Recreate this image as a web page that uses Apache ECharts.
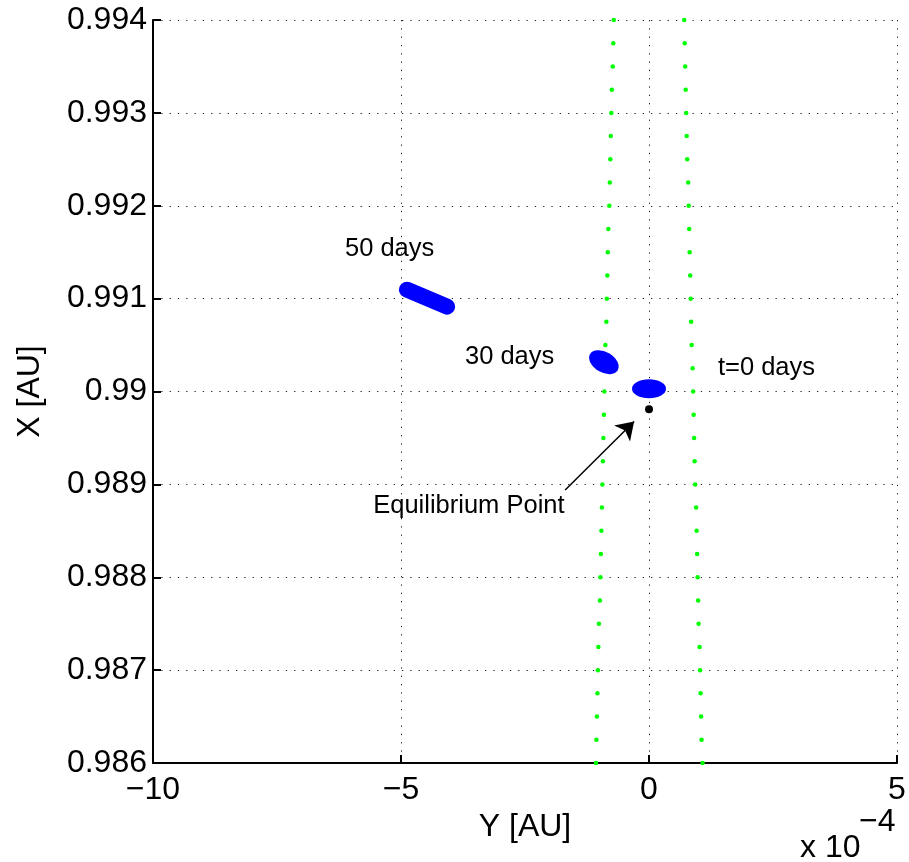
<!DOCTYPE html>
<html>
<head>
<meta charset="utf-8">
<script src="https://cdn.jsdelivr.net/npm/echarts@6/dist/echarts.min.js"></script>
<style>
html,body{margin:0;padding:0;background:#fff;}
#chart{width:909px;height:862px;}
</style>
</head>
<body>
<div id="chart"></div>
<script>
// ---- data (Y in units of 1e-4 AU, X in AU) ----
const xTicks = [-10, -5, 0, 5];
const xTickLabels = ['\u221210', '\u22125', '0', '5'];
const yTicks = [0.986, 0.987, 0.988, 0.989, 0.99, 0.991, 0.992, 0.993, 0.994];
const yTickLabels = ['0.986', '0.987', '0.988', '0.989', '0.99', '0.991', '0.992', '0.993', '0.994'];

// rows of the green dotted boundary curves (X values, AU)
const dotRowsX = [0.994, 0.99375, 0.9935, 0.99325, 0.993, 0.99275, 0.9925, 0.99225, 0.992, 0.99175,
  0.9915, 0.99125, 0.991, 0.99075, 0.9905, 0.99025, 0.990, 0.98975, 0.9895, 0.98925, 0.989,
  0.98875, 0.9885, 0.98825, 0.988, 0.98775, 0.9875, 0.98725, 0.987, 0.98675, 0.9865, 0.98625, 0.986];
const leftCurveY = [-0.71, -0.72, -0.73, -0.75, -0.76, -0.77, -0.78, -0.79, -0.80, -0.82, -0.83,
  -0.84, -0.85, -0.86, -0.88, -0.89, -0.90, -0.91, -0.92, -0.93, -0.94, -0.95, -0.96, -0.97,
  -0.98, -0.99, -1.01, -1.02, -1.03, -1.04, -1.05, -1.06, -1.07];
const rightCurveY = [0.71, 0.72, 0.73, 0.74, 0.75, 0.76, 0.77, 0.79, 0.80, 0.81, 0.82, 0.83,
  0.84, 0.85, 0.86, 0.88, 0.89, 0.90, 0.91, 0.92, 0.93, 0.95, 0.96, 0.97, 0.98, 0.99, 1.00,
  1.02, 1.03, 1.04, 1.05, 1.06, 1.08];

// dispersion clouds
const cloudT0 = [0.0, 0.99003];            // centre
const cloud30 = [-0.91, 0.990315];         // centre
const cloud50 = [[-4.88, 0.991096], [-4.07, 0.990913]]; // extent endpoints

const equilibrium = [0, 0.98981];
const arrowTail = [-1.69, 0.98894];
const arrowHead = [-0.30, 0.989676];

const annotations = [
  { name: '50 days', value: [-6.13, 0.991535] },
  { name: '30 days', value: [-3.71, 0.990372] },
  { name: 't=0 days', value: [1.39, 0.990254] },
  { name: 'Equilibrium Point', value: [-5.56, 0.988770] }
];

// ---- chart ----
const FONT = "'Liberation Sans', Arial, Helvetica, sans-serif";
const chart = echarts.init(document.getElementById('chart'), null, { renderer: 'canvas' });

function zip(xs, ys) { return xs.map((x, i) => [x, ys[i]]); }

const gridLine = { show: true, showMinLine: false, showMaxLine: true,
  lineStyle: { color: '#000', width: 1, type: [1.3, 7], opacity: 0.85 } };

const option = {
  animation: false,
  backgroundColor: '#fff',
  grid: { left: 153, right: 12, top: 20, bottom: 99, containLabel: false },
  xAxis: {
    type: 'value', min: -10, max: 5, interval: 5,
    name: 'Y [AU]', nameLocation: 'middle', nameGap: 47,
    nameTextStyle: { fontSize: 32, fontFamily: FONT, color: '#000' },
    axisLine: { show: true, onZero: false, lineStyle: { color: '#000', width: 2 } },
    axisTick: { show: true, inside: true, length: 8, lineStyle: { color: '#000', width: 2 } },
    axisLabel: {
      margin: 11, fontSize: 32, fontFamily: FONT, color: '#000',
      formatter: v => { const i = xTicks.indexOf(v); return i >= 0 ? xTickLabels[i] : ''; }
    },
    splitLine: gridLine
  },
  yAxis: {
    type: 'value', min: 0.986, max: 0.994, interval: 0.001,
    name: 'X [AU]', nameLocation: 'middle', nameGap: 107, nameRotate: 90,
    nameTextStyle: { fontSize: 32, fontFamily: FONT, color: '#000' },
    axisLine: { show: true, onZero: false, lineStyle: { color: '#000', width: 2 } },
    axisTick: { show: true, inside: true, length: 8, lineStyle: { color: '#000', width: 2 } },
    axisLabel: {
      margin: 6, fontSize: 32, fontFamily: FONT, color: '#000',
      formatter: v => { const i = Math.round((v - 0.986) / 0.001); return yTickLabels[i] || ''; }
    },
    splitLine: gridLine
  },
  series: [
    { type: 'scatter', data: zip(leftCurveY, dotRowsX), symbol: 'circle', symbolSize: 4.5,
      itemStyle: { color: '#00ff00', opacity: 1 }, silent: true, clip: false },
    { type: 'scatter', data: zip(rightCurveY, dotRowsX), symbol: 'circle', symbolSize: 4.5,
      itemStyle: { color: '#00ff00', opacity: 1 }, silent: true, clip: false },
    { type: 'scatter', data: [cloudT0], symbol: 'circle', symbolSize: [34, 19],
      itemStyle: { color: '#0000ff', opacity: 1 }, silent: true },
    { type: 'scatter', data: [cloud30], symbol: 'circle', symbolSize: [32, 20.5], symbolRotate: -30,
      itemStyle: { color: '#0000ff', opacity: 1 }, silent: true },
    { type: 'line', data: cloud50, showSymbol: false, symbol: 'none', silent: true,
      lineStyle: { color: '#0000ff', width: 16, cap: 'round' } },
    { type: 'scatter', data: [equilibrium], symbol: 'circle', symbolSize: 8,
      itemStyle: { color: '#000', opacity: 1 }, silent: true },
    { type: 'lines', coordinateSystem: 'cartesian2d', silent: true,
      symbol: ['none', 'arrow'], symbolSize: [11, 17],
      lineStyle: { color: '#000', width: 1.5, opacity: 1, curveness: 0 },
      data: [{ coords: [arrowTail, arrowHead] }] },
    { type: 'scatter', data: annotations, symbolSize: 0, silent: true,
      itemStyle: { opacity: 1 },
      label: { show: true, formatter: '{b}', position: 'right', distance: 0,
        fontSize: 25.5, fontFamily: FONT, color: '#000', verticalAlign: 'middle' } }
  ],
  graphic: [
    { type: 'text', x: 800, y: 848, silent: true,
      style: { text: 'x 10', font: '32px ' + FONT, fill: '#000', textAlign: 'left', textVerticalAlign: 'middle' } },
    { type: 'text', x: 859, y: 822, silent: true,
      style: { text: '\u22124', font: '32px ' + FONT, fill: '#000', textAlign: 'left', textVerticalAlign: 'middle' } }
  ]
};
chart.setOption(option);
</script>
</body>
</html>
